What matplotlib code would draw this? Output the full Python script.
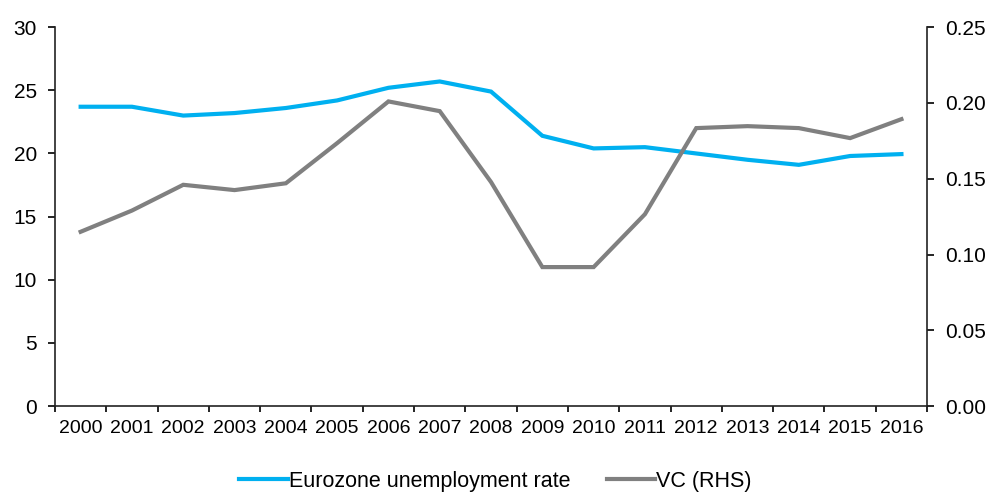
import matplotlib
matplotlib.use("Agg")
import matplotlib.pyplot as plt
from matplotlib.lines import Line2D

plt.rcParams['font.family'] = ['Liberation Sans', 'DejaVu Sans']

years = [str(y) for y in range(2000, 2017)]
unemployment = [23.7, 23.7, 23.0, 23.2, 23.6, 24.2, 25.2, 25.7, 24.9, 21.4, 20.4,
                20.5, 20.0, 19.5, 19.1, 19.8, 19.95]
vc = [0.115, 0.129, 0.146, 0.1425, 0.147, 0.1735, 0.201, 0.1946, 0.1478, 0.0917,
      0.0917, 0.1266, 0.1834, 0.1847, 0.1834, 0.1768, 0.1893]
left_ticks = [0, 5, 10, 15, 20, 25, 30]
right_ticks = [0.00, 0.05, 0.10, 0.15, 0.20, 0.25]

blue = '#00B0F0'
grey = '#808080'

fig = plt.figure(figsize=(9.91, 4.94), dpi=100)
ax = fig.add_axes([0.0555, 0.178, 0.88, 0.767])
ax2 = ax.twinx()

x = list(range(len(years)))
ax.plot(x, unemployment, color=blue, lw=3, solid_joinstyle='miter', zorder=3)
ax2.plot(x, vc, color=grey, lw=3, solid_joinstyle='miter', zorder=2)

ax.set_xlim(-0.5, len(years) - 0.5)
ax.set_ylim(0, 30)
ax2.set_ylim(0, 0.25)
ax.set_yticks(left_ticks)
ax.set_yticklabels([str(t) for t in left_ticks])
ax2.set_yticks(right_ticks)
ax2.set_yticklabels([f"{t:.2f}" for t in right_ticks])

ax.set_xticks([i - 0.5 for i in range(len(years) + 1)])
ax.set_xticklabels([])
ax.set_xticks(x, minor=True)
ax.set_xticklabels(years, minor=True)
ax.tick_params(axis='x', which='minor', length=0, labelsize=14, pad=10, colors='black')
ax.tick_params(axis='x', which='major', length=4, width=1.2, direction='out')
ax.tick_params(axis='y', length=5, width=1.2, labelsize=15, pad=8)
ax2.tick_params(axis='y', length=5, width=1.2, labelsize=15, pad=8)

for a in (ax, ax2):
    a.spines['top'].set_visible(False)
    for s in ('left', 'right', 'bottom'):
        a.spines[s].set_linewidth(1.2)
        a.spines[s].set_color('#222222')
ax.spines['right'].set_visible(False)
ax2.spines['left'].set_visible(False)
ax2.spines['bottom'].set_visible(False)

handles = [Line2D([0], [0], color=blue, lw=3), Line2D([0], [0], color=grey, lw=3)]
fig.legend(handles, ['Eurozone unemployment rate', 'VC (RHS)'], loc='lower center',
           bbox_to_anchor=(0.5, -0.035), ncol=2, frameon=False, fontsize=15.5,
           handlelength=2.25, handletextpad=0.05, columnspacing=1.7)

fig.savefig('out.png', dpi=100)
